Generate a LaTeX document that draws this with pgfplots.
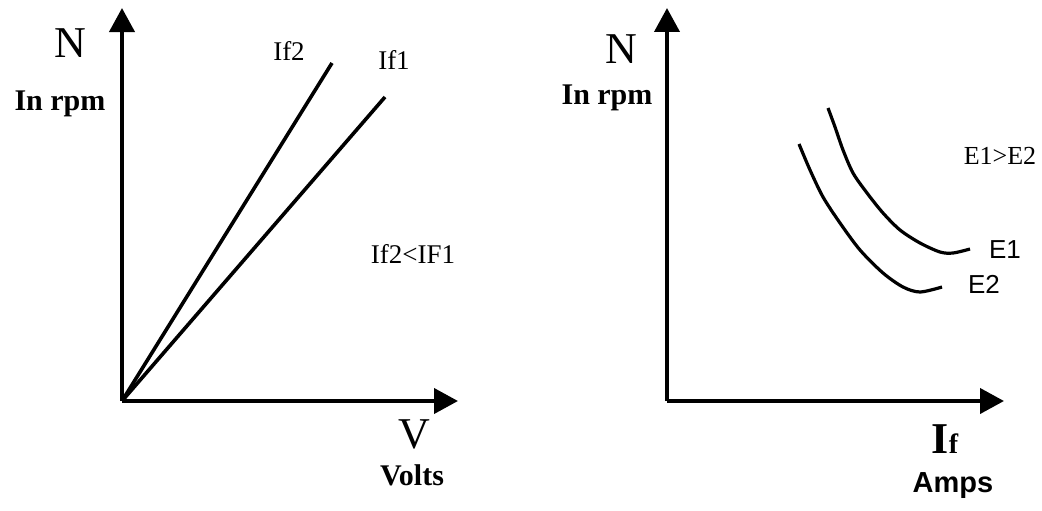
\documentclass[border=0pt]{standalone}
\usepackage{fontspec}
\setmainfont{Liberation Serif}
\newfontfamily\arial{Liberation Sans}
\usepackage{pgfplots}
\pgfplotsset{compat=1.18}
\usetikzlibrary{arrows.meta}
\newcommand{\fs}[1]{\fontsize{#1}{#1}\selectfont}
\begin{document}
\begin{tikzpicture}
\path[use as bounding box] (0,0) rectangle (521pt,255pt);
\pgfplotsset{
  myaxis/.style={
    scale only axis, clip=false,
    axis lines=left,
    xtick=\empty, ytick=\empty,
    xmin=0, ymin=0,
    axis line style={line width=2pt, -{Triangle[length=12pt,width=12.5pt]}},
    cycle list={{black, line width=1.7pt, no markers}},
  }
}
% Left panel
\begin{axis}[myaxis, at={(61pt,54.5pt)}, anchor=south west,
  xmax=336, ymax=393, width=168pt, height=196.5pt]
\addplot[black, line width=1.8pt] coordinates {(0,0) (210,338)};
\addplot[black, line width=1.8pt] coordinates {(0,0) (263,304)};
\node at (axis cs:-52,358) {\fs{22pt}N};
\node at (axis cs:-62,297) {\fs{15pt}\bfseries In rpm};
\node at (axis cs:167,350) {\fs{13.5pt}If2};
\node at (axis cs:272,341) {\fs{13.5pt}If1};
\node at (axis cs:291,147) {\fs{13.5pt}If2<IF1};
\node at (axis cs:292,-33) {\fs{22pt}V};
\node at (axis cs:290,-74) {\fs{15pt}\bfseries Volts};
\end{axis}
% Right panel
\begin{axis}[myaxis, at={(333.5pt,54.5pt)}, anchor=south west,
  xmax=337, ymax=393, width=168.5pt, height=196.5pt]
\addplot[black, line width=1.6pt, smooth] coordinates {(161,293) (168,274) (176,251) (186,228) (200,208) (216,188) (233,171) (253,158) (273,149) (286,148) (303,152)};
\addplot[black, line width=1.6pt, smooth] coordinates {(132,257) (143,231) (156,204) (173,178) (193,151) (216,128) (236,114) (253,109) (275,114)};
\node at (axis cs:-46,352) {\fs{22pt}N};
\node at (axis cs:-60,303) {\fs{15pt}\bfseries In rpm};
\node at (axis cs:333,245) {\fs{13pt}E1>E2};
\node at (axis cs:338,151) {\arial\fs{13pt}E1};
\node at (axis cs:317,117) {\arial\fs{13pt}E2};
\node at (axis cs:278,-38) {\fs{22pt}\bfseries I{\fs{14pt}f}};
\node at (axis cs:286,-85) {\arial\fs{14.5pt}\bfseries Amps};
\end{axis}
\end{tikzpicture}
\end{document}
